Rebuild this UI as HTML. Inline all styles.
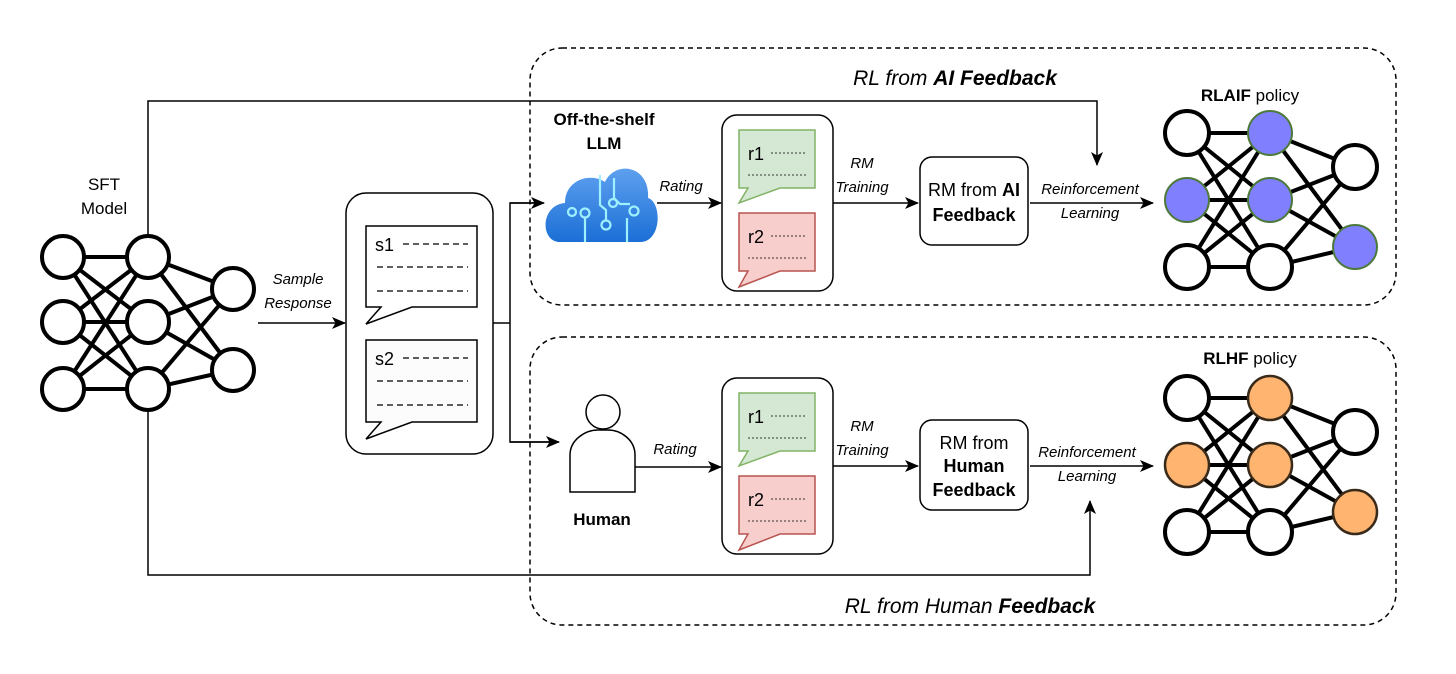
<!DOCTYPE html>
<html><head><meta charset="utf-8"><style>
html,body{margin:0;padding:0;background:#fff;}
svg{display:block;font-family:"Liberation Sans",Arial,sans-serif;}
</style></head><body>
<svg width="1456" height="674" viewBox="0 0 1456 674" xmlns="http://www.w3.org/2000/svg">
<defs>
<marker id="ar" markerWidth="14" markerHeight="12" refX="13" refY="6" orient="auto" markerUnits="userSpaceOnUse">
<path d="M0,0 L14,6 L0,12 L3.5,6 Z" fill="#000"/></marker>
</defs>
<rect width="1456" height="674" fill="#fff"/>

<rect x="530" y="48" width="866" height="257" rx="32" fill="none" stroke="#000" stroke-width="1.5" stroke-dasharray="5,4"/>
<rect x="530" y="337" width="866" height="288" rx="32" fill="none" stroke="#000" stroke-width="1.5" stroke-dasharray="5,4"/>
<text x="955" y="85" font-size="21" font-style="italic" text-anchor="middle">RL from <tspan font-weight="bold">AI Feedback</tspan></text>
<text x="970" y="613" font-size="21" font-style="italic" text-anchor="middle">RL from Human <tspan font-weight="bold">Feedback</tspan></text>

<polyline points="148,236 148,101 1097,101 1097,165" fill="none" stroke="#000" stroke-width="1.5" marker-end="url(#ar)"/>
<polyline points="148,410 148,575 1090,575 1090,501" fill="none" stroke="#000" stroke-width="1.5" marker-end="url(#ar)"/>

<text x="104" y="190" font-size="17" text-anchor="middle">SFT</text>
<text x="104" y="214" font-size="17" text-anchor="middle">Model</text>
<g stroke="#000" stroke-width="4">
<line x1="63" y1="257" x2="148" y2="257"/><line x1="63" y1="257" x2="148" y2="322"/><line x1="63" y1="257" x2="148" y2="389"/>
<line x1="63" y1="322" x2="148" y2="257"/><line x1="63" y1="322" x2="148" y2="322"/><line x1="63" y1="322" x2="148" y2="389"/>
<line x1="63" y1="389" x2="148" y2="257"/><line x1="63" y1="389" x2="148" y2="322"/><line x1="63" y1="389" x2="148" y2="389"/>
<line x1="148" y1="257" x2="233" y2="289"/><line x1="148" y1="257" x2="233" y2="370"/>
<line x1="148" y1="322" x2="233" y2="289"/><line x1="148" y1="322" x2="233" y2="370"/>
<line x1="148" y1="389" x2="233" y2="289"/><line x1="148" y1="389" x2="233" y2="370"/>
</g>
<g fill="#fff" stroke="#000" stroke-width="4">
<circle cx="63" cy="257" r="21"/><circle cx="63" cy="322" r="21"/><circle cx="63" cy="389" r="21"/>
<circle cx="148" cy="257" r="21"/><circle cx="148" cy="322" r="21"/><circle cx="148" cy="389" r="21"/>
<circle cx="233" cy="289" r="21"/><circle cx="233" cy="370" r="21"/>
</g>

<text x="298" y="284" font-size="15" font-style="italic" text-anchor="middle">Sample</text>
<text x="298" y="308" font-size="15" font-style="italic" text-anchor="middle">Response</text>
<line x1="258" y1="323" x2="345" y2="323" stroke="#000" stroke-width="1.5" marker-end="url(#ar)"/>
<rect x="346" y="193" width="147" height="261" rx="20" fill="#fff" stroke="#000" stroke-width="1.5"/>
<path d="M366,226 H477 V307 H412 L366,324 L381,307 H366 Z" fill="#fff" stroke="#000" stroke-width="1.5"/>
<path d="M366,340 H477 V422 H412 L366,439 L381,422 H366 Z" fill="#fcfcfc" stroke="#000" stroke-width="1.5"/>
<g font-size="18"><text x="375" y="251">s1</text><text x="375" y="365">s2</text></g>
<g stroke="#000" stroke-width="1.3" stroke-dasharray="6,4">
<line x1="403" y1="244" x2="468" y2="244"/><line x1="377" y1="267" x2="468" y2="267"/><line x1="377" y1="291" x2="468" y2="291"/>
<line x1="403" y1="358" x2="468" y2="358"/><line x1="377" y1="381" x2="468" y2="381"/><line x1="377" y1="405" x2="468" y2="405"/>
</g>
<polyline points="493,323 510,323" fill="none" stroke="#000" stroke-width="1.5"/>
<polyline points="543,203 510,203 510,442 557,442" fill="none" stroke="#000" stroke-width="1.5"/>
<line x1="510" y1="203" x2="544" y2="203" stroke="#000" stroke-width="1.5" marker-end="url(#ar)"/>
<line x1="510" y1="442" x2="559" y2="442" stroke="#000" stroke-width="1.5" marker-end="url(#ar)"/>

<text x="604" y="125" font-size="17" font-weight="bold" text-anchor="middle">Off-the-shelf</text>
<text x="604" y="149" font-size="17" font-weight="bold" text-anchor="middle">LLM</text>
<defs><linearGradient id="cg" x1="0" y1="0" x2="0" y2="1"><stop offset="0" stop-color="#5ea0ef"/><stop offset="1" stop-color="#1b6fd6"/></linearGradient></defs>
<path d="M560,242 C540,242 540,205 565,203 C565,180 590,172 605,182 C615,160 650,165 648,198 C662,202 662,242 640,242 Z" fill="url(#cg)"/>
<g fill="none" stroke="#9ff0ff" stroke-width="2.2">
<path d="M585,242 V218"/><circle cx="585" cy="213" r="4.5"/><circle cx="572" cy="212" r="4"/>
<path d="M600,175 V205 L606,210 V220"/><circle cx="606" cy="225" r="4.5"/>
<path d="M614,178 V198 L620,204 H630"/><circle cx="613" cy="203" r="4"/>
<path d="M627,242 V218"/><circle cx="634" cy="211" r="4.5"/>
</g>
<text x="681" y="191" font-size="15" font-style="italic" text-anchor="middle">Rating</text>
<line x1="657" y1="203" x2="721" y2="203" stroke="#000" stroke-width="1.5" marker-end="url(#ar)"/>

<circle cx="603" cy="412" r="17" fill="#fff" stroke="#000" stroke-width="1.5"/>
<path d="M570,492 V455 C570,440 585,430 598,430 H608 C621,430 635,440 635,455 V492 Z" fill="#fff" stroke="#000" stroke-width="1.5"/>
<text x="602" y="525" font-size="17" font-weight="bold" text-anchor="middle">Human</text>
<text x="675" y="454" font-size="15" font-style="italic" text-anchor="middle">Rating</text>
<line x1="635" y1="467" x2="721" y2="467" stroke="#000" stroke-width="1.5" marker-end="url(#ar)"/>

<g id="rc">
<rect x="722" y="115" width="111" height="176" rx="15" fill="#fff" stroke="#000" stroke-width="1.5"/>
<path d="M739,130 H815 V188 H780 L739,203 L748,188 H739 Z" fill="#d5e8d4" stroke="#82b366" stroke-width="1.5"/>
<path d="M739,213 H815 V271 H780 L739,287 L748,271 H739 Z" fill="#f8cecc" stroke="#b85450" stroke-width="1.5"/>
<text x="748" y="160" font-size="18">r1</text><text x="748" y="243" font-size="18">r2</text>
<g stroke="#333" stroke-width="1" stroke-dasharray="2,2">
<line x1="771" y1="153" x2="806" y2="153"/><line x1="748" y1="175" x2="806" y2="175"/>
<line x1="771" y1="236" x2="806" y2="236"/><line x1="748" y1="258" x2="806" y2="258"/>
</g>
</g>
<use href="#rc" transform="translate(0,263)"/>

<text x="862" y="168" font-size="15" font-style="italic" text-anchor="middle">RM</text>
<text x="862" y="192" font-size="15" font-style="italic" text-anchor="middle">Training</text>
<line x1="833" y1="203" x2="918" y2="203" stroke="#000" stroke-width="1.5" marker-end="url(#ar)"/>
<text x="862" y="431" font-size="15" font-style="italic" text-anchor="middle">RM</text>
<text x="862" y="455" font-size="15" font-style="italic" text-anchor="middle">Training</text>
<line x1="833" y1="466" x2="918" y2="466" stroke="#000" stroke-width="1.5" marker-end="url(#ar)"/>

<rect x="920" y="157" width="108" height="88" rx="12" fill="#fff" stroke="#000" stroke-width="1.5"/>
<text x="974" y="196" font-size="18" text-anchor="middle">RM from <tspan font-weight="bold">AI</tspan></text>
<text x="974" y="221" font-size="18" font-weight="bold" text-anchor="middle">Feedback</text>
<rect x="920" y="420" width="108" height="90" rx="12" fill="#fff" stroke="#000" stroke-width="1.5"/>
<text x="974" y="449" font-size="18" text-anchor="middle">RM from</text>
<text x="974" y="472" font-size="18" font-weight="bold" text-anchor="middle">Human</text>
<text x="974" y="496" font-size="18" font-weight="bold" text-anchor="middle">Feedback</text>

<text x="1090" y="194" font-size="15" font-style="italic" text-anchor="middle">Reinforcement</text>
<text x="1090" y="218" font-size="15" font-style="italic" text-anchor="middle">Learning</text>
<line x1="1030" y1="203" x2="1153" y2="203" stroke="#000" stroke-width="1.5" marker-end="url(#ar)"/>
<text x="1087" y="457" font-size="15" font-style="italic" text-anchor="middle">Reinforcement</text>
<text x="1087" y="481" font-size="15" font-style="italic" text-anchor="middle">Learning</text>
<line x1="1030" y1="466" x2="1153" y2="466" stroke="#000" stroke-width="1.5" marker-end="url(#ar)"/>

<text x="1250" y="101" font-size="17" text-anchor="middle"><tspan font-weight="bold">RLAIF</tspan> policy</text>
<g id="nn">
<g stroke="#000" stroke-width="4">
<line x1="1187" y1="133" x2="1270" y2="133"/><line x1="1187" y1="133" x2="1270" y2="200"/><line x1="1187" y1="133" x2="1270" y2="267"/>
<line x1="1187" y1="200" x2="1270" y2="133"/><line x1="1187" y1="200" x2="1270" y2="200"/><line x1="1187" y1="200" x2="1270" y2="267"/>
<line x1="1187" y1="267" x2="1270" y2="133"/><line x1="1187" y1="267" x2="1270" y2="200"/><line x1="1187" y1="267" x2="1270" y2="267"/>
<line x1="1270" y1="133" x2="1355" y2="167"/><line x1="1270" y1="133" x2="1355" y2="247"/>
<line x1="1270" y1="200" x2="1355" y2="167"/><line x1="1270" y1="200" x2="1355" y2="247"/>
<line x1="1270" y1="267" x2="1355" y2="167"/><line x1="1270" y1="267" x2="1355" y2="247"/>
</g>
</g>
<g stroke="#000" stroke-width="4" fill="#fff">
<circle cx="1187" cy="133" r="22"/><circle cx="1187" cy="267" r="22"/><circle cx="1270" cy="267" r="22"/><circle cx="1355" cy="167" r="22"/>
</g>
<g stroke="#4d7a3a" stroke-width="2" fill="#8080ff">
<circle cx="1270" cy="133" r="22"/><circle cx="1187" cy="200" r="22"/><circle cx="1270" cy="200" r="22"/><circle cx="1355" cy="247" r="22"/>
</g>

<text x="1250" y="364" font-size="17" text-anchor="middle"><tspan font-weight="bold">RLHF</tspan> policy</text>
<use href="#nn" transform="translate(0,265)"/>
<g stroke="#000" stroke-width="4" fill="#fff">
<circle cx="1187" cy="398" r="22"/><circle cx="1187" cy="532" r="22"/><circle cx="1270" cy="532" r="22"/><circle cx="1355" cy="432" r="22"/>
</g>
<g stroke="#3a2a1a" stroke-width="2.5" fill="#ffb570">
<circle cx="1270" cy="398" r="22"/><circle cx="1187" cy="465" r="22"/><circle cx="1270" cy="465" r="22"/><circle cx="1355" cy="512" r="22"/>
</g>
</svg>
</body></html>
